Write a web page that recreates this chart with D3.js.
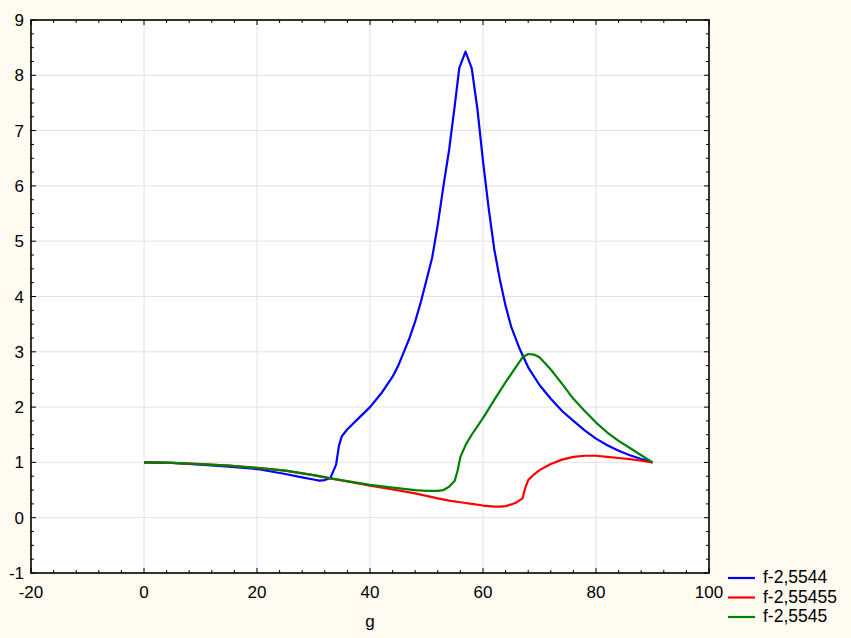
<!DOCTYPE html>
<html>
<head>
<meta charset="utf-8">
<script src="https://cdn.jsdelivr.net/npm/d3@7"></script>
<style>
  body { margin: 0; background: #fffbf0; }
  svg { display: block; }
  text { font-family: "Liberation Sans", Arial, sans-serif; fill: #000; }
</style>
</head>
<body>
<svg id="canvas" width="851" height="638"></svg>
<script>
// series: g values and f values
var blueG = [0, 5, 10, 15, 20, 25, 28, 30, 31, 32, 33, 34, 34.5, 35, 36, 38, 40, 42, 44, 45, 46, 47, 48, 49, 50, 51, 52, 53, 54, 55, 55.8, 56.9, 58, 59, 60, 61, 62, 63, 64, 65, 66.5, 68, 70, 72, 74, 76, 78, 80, 82, 84, 86, 88, 90];
var blueV = [1, 0.99, 0.96, 0.925, 0.88, 0.79, 0.73, 0.69, 0.67, 0.68, 0.72, 0.96, 1.3, 1.47, 1.6, 1.8, 2.0, 2.25, 2.55, 2.75, 3.0, 3.25, 3.55, 3.9, 4.3, 4.7, 5.3, 6.0, 6.65, 7.45, 8.13, 8.43, 8.13, 7.4, 6.45, 5.6, 4.85, 4.3, 3.83, 3.45, 3.05, 2.72, 2.4, 2.15, 1.93, 1.75, 1.58, 1.43, 1.31, 1.21, 1.13, 1.06, 1];

var redG = [0, 5, 10, 15, 20, 25, 30, 33, 36, 40, 44, 48, 52, 54, 56, 58, 60, 62, 63, 64, 65, 66, 67, 67.5, 68, 69, 70, 72, 74, 76, 78, 80, 82, 84, 86, 88, 90];
var redV = [1, 0.99, 0.97, 0.94, 0.9, 0.85, 0.77, 0.71, 0.655, 0.58, 0.51, 0.44, 0.35, 0.31, 0.28, 0.25, 0.22, 0.2, 0.2, 0.21, 0.24, 0.28, 0.35, 0.55, 0.68, 0.78, 0.86, 0.97, 1.05, 1.1, 1.12, 1.12, 1.1, 1.08, 1.06, 1.03, 1];

var greenG = [0, 5, 10, 15, 20, 25, 30, 33, 36, 40, 44, 48, 50, 52, 53, 54, 55, 55.5, 56, 57, 58, 60, 62, 64, 66, 67, 68, 69, 70, 72, 74, 76, 78, 80, 82, 84, 86, 88, 90];
var greenV = [1, 0.99, 0.97, 0.94, 0.9, 0.85, 0.77, 0.71, 0.66, 0.595, 0.545, 0.5, 0.485, 0.485, 0.5, 0.56, 0.67, 0.85, 1.1, 1.33, 1.5, 1.8, 2.13, 2.45, 2.75, 2.9, 2.96, 2.95, 2.9, 2.68, 2.42, 2.15, 1.93, 1.72, 1.54, 1.39, 1.26, 1.13, 1];

var seriesNames = ["f-2,5544", "f-2,55455", "f-2,5545"];
var seriesColors = ["#0000ff", "#ff0000", "#008000"];

var xTicks = [-20, 0, 20, 40, 60, 80, 100];
var yTicks = [-1, 0, 1, 2, 3, 4, 5, 6, 7, 8, 9];
var xTitle = "g";

function drawChart() {
    "use strict";

    var svg = d3.select("#canvas");
    var pl = 31, pt = 20, pr = 709, pb = 573;

    var x = d3.scaleLinear().domain([-20, 100]).range([pl, pr]);
    var y = d3.scaleLinear().domain([-1, 9]).range([pb, pt]);

    svg.append("rect").attr("width", 851).attr("height", 638).attr("fill", "#fffbf0");
    svg.append("rect")
        .attr("x", pl).attr("y", pt)
        .attr("width", pr - pl).attr("height", pb - pt)
        .attr("fill", "#fff");

    // grid
    svg.append("g").selectAll("line").data(xTicks.slice(1, -1)).enter().append("line")
        .attr("x1", function(d) { return x(d); }).attr("x2", function(d) { return x(d); })
        .attr("y1", pt).attr("y2", pb)
        .attr("stroke", "#e2e2e2").attr("stroke-width", 1);
    svg.append("g").selectAll("line").data(yTicks.slice(1, -1)).enter().append("line")
        .attr("y1", function(d) { return y(d); }).attr("y2", function(d) { return y(d); })
        .attr("x1", pl).attr("x2", pr)
        .attr("stroke", "#e2e2e2").attr("stroke-width", 1);

    // lines (straight segments, like the original plot)
    var allSeries = [
        d3.zip(blueG, blueV),
        d3.zip(redG, redV),
        d3.zip(greenG, greenV)
    ];
    var line = d3.line()
        .x(function(d) { return x(d[0]); })
        .y(function(d) { return y(d[1]); });

    allSeries.forEach(function(s, i) {
        svg.append("path")
            .datum(s)
            .attr("d", line)
            .attr("fill", "none")
            .attr("stroke", seriesColors[i])
            .attr("stroke-width", 2.2)
            .attr("stroke-linejoin", "round");
    });

    // inward ticks, all four sides
    var xMinor = d3.range(-20, 100.1, 4);
    var yMinor = d3.range(-1, 9.01, 0.25);
    function isMajorX(d) { return Math.abs(d % 20) < 1e-6; }
    function isMajorY(d) { return Math.abs(d - Math.round(d)) < 1e-6; }

    var ticks = svg.append("g").attr("stroke", "#000").attr("stroke-width", 1);
    xMinor.forEach(function(d) {
        var len = isMajorX(d) ? 5 : 3;
        ticks.append("line").attr("x1", x(d)).attr("x2", x(d)).attr("y1", pb).attr("y2", pb - len);
        ticks.append("line").attr("x1", x(d)).attr("x2", x(d)).attr("y1", pt).attr("y2", pt + len);
    });
    yMinor.forEach(function(d) {
        var len = isMajorY(d) ? 5 : 3;
        ticks.append("line").attr("y1", y(d)).attr("y2", y(d)).attr("x1", pl).attr("x2", pl + len);
        ticks.append("line").attr("y1", y(d)).attr("y2", y(d)).attr("x1", pr).attr("x2", pr - len);
    });

    svg.append("rect")
        .attr("x", pl).attr("y", pt)
        .attr("width", pr - pl).attr("height", pb - pt)
        .attr("fill", "none").attr("stroke", "#000").attr("stroke-width", 1.6);

    // tick labels
    svg.append("g").selectAll("text").data(xTicks).enter().append("text")
        .attr("x", function(d) { return x(d); })
        .attr("y", 598)
        .attr("text-anchor", "middle")
        .attr("font-size", 17)
        .text(function(d) { return d; });
    svg.append("g").selectAll("text").data(yTicks).enter().append("text")
        .attr("x", 24)
        .attr("y", function(d) { return y(d) + 6; })
        .attr("text-anchor", "end")
        .attr("font-size", 17)
        .text(function(d) { return d; });

    svg.append("text")
        .attr("x", x(40)).attr("y", 627)
        .attr("text-anchor", "middle")
        .attr("font-size", 17)
        .text(xTitle);

    // legend
    var legend = svg.append("g");
    seriesNames.forEach(function(name, i) {
        var ly = 578 + i * 19.5;
        legend.append("line")
            .attr("x1", 728).attr("x2", 755).attr("y1", ly).attr("y2", ly)
            .attr("stroke", seriesColors[i]).attr("stroke-width", 2.2);
        legend.append("text")
            .attr("x", 763).attr("y", ly + 5)
            .attr("font-size", 17.5)
            .text(name);
    });
}

drawChart();
</script>
</body>
</html>
